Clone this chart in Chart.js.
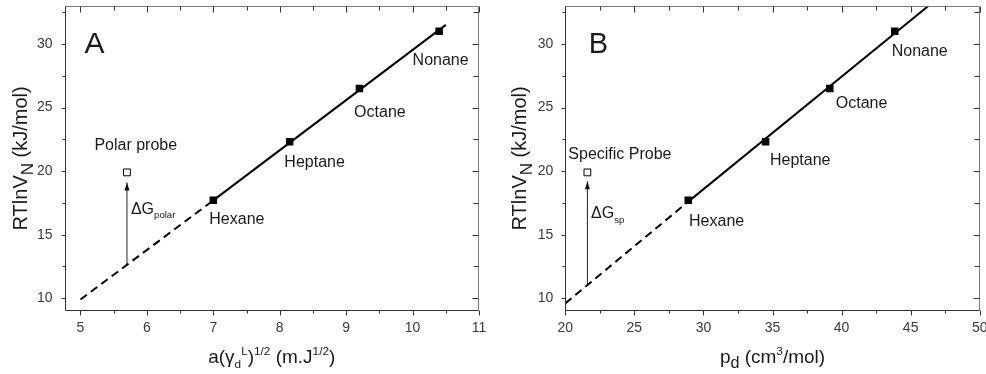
<!DOCTYPE html>
<html lang="en">
<head>
  <meta charset="UTF-8" />
  <title>RTlnVN vs dispersive descriptors</title>
  <script src="https://cdn.jsdelivr.net/npm/chart.js"></script>
  <style>
    body { margin: 0; background: #fff; }
    .wrap { position: relative; width: 986px; height: 374px; }
    .panel { position: absolute; top: 0; height: 374px; }
    #panelA { left: 0; width: 490px; }
    #panelB { left: 490px; width: 496px; }
  </style>
</head>
<body>
  <div class="wrap">
    <div class="panel" id="panelA"><canvas id="chartA" width="490" height="374"></canvas></div>
    <div class="panel" id="panelB"><canvas id="chartB" width="496" height="374"></canvas></div>
  </div>

  <script>
    // values
    const alkaneNames = ['Hexane', 'Heptane', 'Octane', 'Nonane'];
    const rtlnvnAlkanes = [17.7, 22.3, 26.5, 31.0];
    const surfaceTermA = [7.0, 8.15, 9.2, 10.4];        // a(γdL)^1/2
    const polarizabilityB = [28.9, 34.5, 39.15, 43.85]; // pd

    // reference line: dashed for the first segment, solid after
    const fitXA = [5.0, 7.0, 10.5];
    const fitYA = [9.9, 17.7, 31.5];
    const fitXB = [20.0, 28.9, 46.3];
    const fitYB = [9.6, 17.6, 33.0];

    const probeA = [5.7, 19.9];
    const probeB = [21.6, 19.9];
    const arrowYA = [12.7, 19.1]; // base on the line, tip under probe
    const arrowYB = [11.1, 19.2];

    const xTicksA = [5, 6, 7, 8, 9, 10, 11];
    const xTicksB = [20, 25, 30, 35, 40, 45, 50];
    const yTicks = [10, 15, 20, 25, 30];

    const FONT = '"Liberation Sans", Arial, sans-serif';

    // text with sub/superscripts
    function drawRich(ctx, segs, x, y, size, align) {
      const parts = segs.map(s => {
        const k = s.k || 'n';
        const sc = s.s || (k === 'n' ? 1 : 0.62);
        const fs = size * sc;
        ctx.font = fs + 'px ' + FONT;
        const dy = k === 'sub' ? size * 0.28 : k === 'sup' ? -size * 0.42 : 0;
        return { t: s.t, fs, dy, w: ctx.measureText(s.t).width };
      });
      const total = parts.reduce((a, p) => a + p.w, 0);
      let cx = align === 'center' ? x - total / 2 : x;
      ctx.textAlign = 'left';
      ctx.textBaseline = 'alphabetic';
      parts.forEach(p => {
        ctx.font = p.fs + 'px ' + FONT;
        ctx.fillText(p.t, cx, y + p.dy);
        cx += p.w;
      });
    }

    function minorValues(major, min, max) {
      const step = major[1] - major[0];
      const out = [];
      for (let v = major[0] - step / 2; v <= max + 1e-9; v += step) {
        if (v >= min - 1e-9) out.push(v);
      }
      return out;
    }

    function decorPlugin(cfg) {
      return {
        id: 'decor',
        afterDraw(chart) {
          const { ctx, chartArea: a, scales: { x, y } } = chart;
          const L = Math.round(a.left) + 0.5, R = Math.round(a.right) - 0.5;
          const T = Math.round(a.top) + 0.5, B = Math.round(a.bottom) - 0.5;
          ctx.save();
          ctx.lineWidth = 1;

          // frame
          ctx.strokeStyle = '#7a7a7a';
          ctx.beginPath();
          ctx.moveTo(L, T); ctx.lineTo(R, T); ctx.lineTo(R, B);
          ctx.stroke();
          ctx.strokeStyle = '#333';
          ctx.beginPath();
          ctx.moveTo(L, T); ctx.lineTo(L, B); ctx.lineTo(R, B);
          ctx.stroke();

          // ticks: out on bottom/left, in on top/right
          const xMaj = cfg.xTicks, yMaj = yTicks;
          const xMin = minorValues(xMaj, x.min, x.max);
          const yMin = minorValues(yMaj, y.min, y.max);
          ctx.beginPath();
          const xt = (v, len) => {
            const px = Math.round(x.getPixelForValue(v)) + 0.5;
            ctx.moveTo(px, B); ctx.lineTo(px, B + len);
            ctx.moveTo(px, T); ctx.lineTo(px, T + len + 1);
          };
          const yt = (v, len) => {
            const py = Math.round(y.getPixelForValue(v)) + 0.5;
            ctx.moveTo(L, py); ctx.lineTo(L - len, py);
            ctx.moveTo(R, py); ctx.lineTo(R - len - 2, py);
          };
          xMaj.forEach(v => xt(v, 5));
          xMin.forEach(v => xt(v, 3));
          yMaj.forEach(v => yt(v, 4));
          yMin.forEach(v => yt(v, 3));
          ctx.strokeStyle = '#333';
          ctx.stroke();

          // arrowhead
          const arr = chart.getDatasetMeta(1).data;
          if (arr.length === 2) {
            const tip = arr[1];
            ctx.fillStyle = '#111';
            ctx.beginPath();
            ctx.moveTo(tip.x, tip.y);
            ctx.lineTo(tip.x - 2.5, tip.y + 8);
            ctx.lineTo(tip.x + 2.5, tip.y + 8);
            ctx.closePath();
            ctx.fill();
          }

          // labels
          ctx.fillStyle = '#1a1a1a';
          ctx.textAlign = 'left';
          ctx.textBaseline = 'middle';
          cfg.labels.forEach(l => {
            ctx.font = (l.size || 16) + 'px ' + FONT;
            ctx.fillText(l.text, x.getPixelForValue(l.x), y.getPixelForValue(l.y));
          });
          const dg = cfg.deltaLabel;
          drawRich(ctx, [{ t: 'ΔG' }, { t: dg.sub, k: 'sub', s: 0.6 }],
            x.getPixelForValue(dg.x), y.getPixelForValue(dg.y) + 6, 16, 'left');

          // axis titles
          ctx.fillStyle = '#1a1a1a';
          drawRich(ctx, cfg.xTitle, (a.left + a.right) / 2, 363, 19, 'center');
          ctx.save();
          ctx.translate(a.left - cfg.yTitleGap, (a.top + a.bottom) / 2);
          ctx.rotate(-Math.PI / 2);
          drawRich(ctx, [{ t: 'RTlnV' }, { t: 'N', k: 'sub', s: 0.85 }, { t: ' (kJ/mol)' }], 0, 7, 20, 'center');
          ctx.restore();

          ctx.restore();
        }
      };
    }

    function makePanel(id, cfg) {
      return new Chart(document.getElementById(id), {
        type: 'scatter',
        data: {
          datasets: [
            {
              data: cfg.fitX.map((v, i) => ({ x: v, y: cfg.fitY[i] })),
              showLine: true, borderColor: '#000', borderWidth: 2, pointRadius: 0,
              segment: { borderDash: c => c.p0DataIndex === 0 ? [8, 5] : undefined }
            },
            {
              data: [{ x: cfg.probe[0], y: cfg.arrowY[0] }, { x: cfg.probe[0], y: cfg.arrowY[1] }],
              showLine: true, borderColor: '#222', borderWidth: 1, pointRadius: 0
            },
            {
              data: cfg.xs.map((v, i) => ({ x: v, y: rtlnvnAlkanes[i] })),
              pointStyle: 'rect', pointRadius: 5.3, backgroundColor: '#000', borderWidth: 0
            },
            {
              data: [{ x: cfg.probe[0], y: cfg.probe[1] }],
              pointStyle: 'rect', pointRadius: 4.8, backgroundColor: '#fff', borderColor: '#000', borderWidth: 1
            }
          ]
        },
        options: {
          responsive: false,
          animation: false,
          devicePixelRatio: 1,
          layout: { padding: { top: 4, right: cfg.padRight, left: 0, bottom: 0 } },
          plugins: { legend: { display: false }, tooltip: { enabled: false } },
          scales: {
            x: {
              type: 'linear', min: cfg.xMin, max: cfg.xMax,
              grid: { display: false, tickLength: 5 }, border: { display: false },
              ticks: { padding: 4, color: '#3a3a3a', font: { family: FONT, size: 14 }, autoSkip: false, maxRotation: 0, includeBounds: false },
              afterBuildTicks: s => { s.ticks = cfg.xTicks.map(v => ({ value: v })); },
              afterFit: s => { s.height = 63; s.paddingLeft = 0; s.paddingRight = 0; }
            },
            y: {
              type: 'linear', min: 9, max: 33,
              grid: { display: false, tickLength: 5 }, border: { display: false },
              ticks: { padding: 7, color: '#3a3a3a', font: { family: FONT, size: 14 }, autoSkip: false, includeBounds: false },
              afterBuildTicks: s => { s.ticks = yTicks.map(v => ({ value: v })); },
              afterFit: s => { s.width = cfg.yWidth; s.paddingTop = 0; s.paddingBottom = 0; }
            }
          }
        },
        plugins: [decorPlugin(cfg)]
      });
    }

    makePanel('chartA', {
      xs: surfaceTermA, fitX: fitXA, fitY: fitYA, probe: probeA, arrowY: arrowYA,
      xMin: 4.76, xMax: 11, xTicks: xTicksA, yWidth: 64.5, padRight: 11, yTitleGap: 44.5,
      labels: [
        { text: 'A', x: 5.06, y: 29.95, size: 30 },
        { text: 'Polar probe', x: 5.21, y: 22.0 },
        { text: alkaneNames[0], x: 6.94, y: 16.17 },
        { text: alkaneNames[1], x: 8.07, y: 20.65 },
        { text: alkaneNames[2], x: 9.12, y: 24.6 },
        { text: alkaneNames[3], x: 10.0, y: 28.67 }
      ],
      deltaLabel: { sub: 'polar', x: 5.76, y: 17.13 },
      xTitle: [{ t: 'a(γ' }, { t: 'd', k: 'sub' }, { t: 'L', k: 'sup' }, { t: ')' }, { t: '1/2', k: 'sup' },
               { t: ' (m.J' }, { t: '1/2', k: 'sup' }, { t: ')' }]
    });

    makePanel('chartB', {
      xs: polarizabilityB, fitX: fitXB, fitY: fitYB, probe: probeB, arrowY: arrowYB,
      xMin: 20, xMax: 50, xTicks: xTicksB, yWidth: 75.3, padRight: 6.3, yTitleGap: 46.3,
      labels: [
        { text: 'B', x: 21.69, y: 29.95, size: 29 },
        { text: 'Specific Probe', x: 20.22, y: 21.3 },
        { text: alkaneNames[0], x: 28.96, y: 16.0 },
        { text: alkaneNames[1], x: 34.82, y: 20.84 },
        { text: alkaneNames[2], x: 39.58, y: 25.34 },
        { text: alkaneNames[3], x: 43.63, y: 29.43 }
      ],
      deltaLabel: { sub: 'sp', x: 21.86, y: 16.75 },
      xTitle: [{ t: 'p' }, { t: 'd', k: 'sub', s: 0.85 }, { t: ' (cm' }, { t: '3', k: 'sup' }, { t: '/mol)' }]
    });
  </script>
</body>
</html>
